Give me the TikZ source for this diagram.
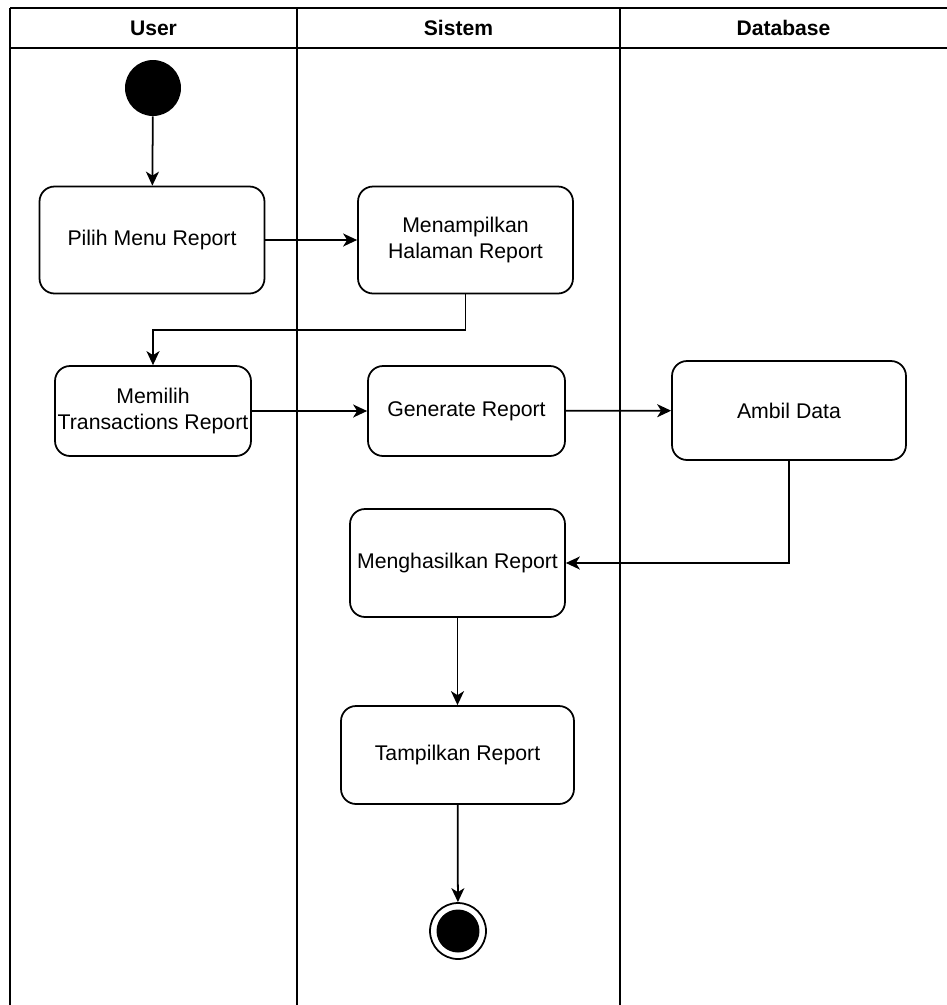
\documentclass[tikz,border=0pt]{standalone}
\usepackage{fontspec}
\setmainfont{Liberation Sans}
\usetikzlibrary{arrows.meta,positioning}

\begin{document}
\begin{tikzpicture}[x=0.02cm,y=-0.02cm,
  act/.style={draw,line width=1pt,rounded corners=0.3cm,align=center,inner sep=0pt,
    font=\fontsize{12.1}{14.6}\selectfont},
  lanehead/.style={font=\fontsize{12}{14}\selectfont\bfseries},
  flow/.style={line width=1pt,-{Stealth[length=2.8mm,width=2.6mm,inset=0.8mm]}},
  lane/.style={line width=1.1pt}]
\useasboundingbox (0,0) rectangle (947,1005);
% swimlanes
\draw[lane] (10,8) -- (947,8);
\draw[lane] (10,48) -- (947,48);
\draw[lane] (10,8) -- (10,1005);
\draw[lane] (297,8) -- (297,1005);
\draw[lane] (620,8) -- (620,1005);
\path (153.5,28) node[lanehead] (hUser) {User};
\path (458.5,28) node[lanehead] (hSistem) {Sistem};
\path (783.5,28) node[lanehead] (hDb) {Database};

% activities
\node[circle,fill=black,minimum size=1.12cm,inner sep=0pt] (start) at (153,88) {};
\node[act,minimum width=4.5cm,minimum height=2.14cm] (pilih) at (152,240) {Pilih Menu Report};
\node[act,minimum width=4.3cm,minimum height=2.14cm] (halaman) at (465.5,240) {Menampilkan\\Halaman Report};
\node[act,minimum width=3.92cm,minimum height=1.8cm] (memilih) at (153,411) {Memilih\\Transactions Report};
\node[act,minimum width=3.94cm,minimum height=1.8cm] (generate) at (466.5,411) {Generate Report};
\node[act,minimum width=4.68cm,minimum height=1.98cm] (ambil) at (789,410.5) {Ambil Data};
\node[act,minimum width=4.3cm,minimum height=2.16cm] (hasil) at (457.5,563) {Menghasilkan Report};
\node[act,minimum width=4.66cm,minimum height=1.96cm] (tampil) at (457.5,755) {Tampilkan Report};
\node[circle,draw,line width=1pt,minimum size=1.12cm,inner sep=0pt] (end) at (458,931) {};
\node[circle,fill=black,minimum size=0.86cm,inner sep=0pt] (endDot) at (end.center) {};

% flows
\coordinate (k1) at (300,330);
\draw[flow] (start) -- (pilih);
\draw[flow] (pilih) -- (halaman);
\draw[flow] (halaman.south) |- (k1) -| (memilih.north);
\draw[flow] (memilih) -- (generate);
\draw[flow] (generate) -- (ambil);
\draw[flow] (ambil.south) |- (hasil.east);
\draw[flow] (hasil) -- (tampil);
\draw[flow] (tampil) -- (end);
\end{tikzpicture}
\end{document}
